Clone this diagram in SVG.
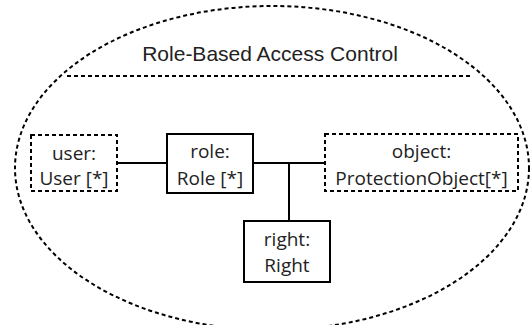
<svg xmlns="http://www.w3.org/2000/svg" width="531" height="325" viewBox="0 0 531 325">
<style>
.dot{fill:none;stroke:#000;stroke-width:2;stroke-dasharray:4 3}
.box{fill:#fff;stroke:#000;stroke-width:2}
.dbox{fill:#fff;stroke:#000;stroke-width:2;stroke-dasharray:4 3}
.lbl{font-family:"Open Sans","Noto Sans",sans-serif;font-size:19px;fill:#222;text-anchor:middle}
.title{font-family:"Liberation Sans",Arial,sans-serif;font-size:21px;fill:#222;text-anchor:middle}
.con{stroke:#000;stroke-width:2;fill:none}
</style>
<rect width="531" height="325" fill="#fff"/>
<g id="frame">
<ellipse class="dot" cx="272" cy="168" rx="257" ry="162"/>
<line class="dot" x1="67" y1="76" x2="472" y2="76"/>
<text class="title" x="270" y="61">Role-Based Access Control</text>
</g>
<g id="connectors">
<line class="con" x1="117" y1="163" x2="167" y2="163"/>
<line class="con" x1="253" y1="163" x2="325" y2="163"/>
<line class="con" x1="289" y1="163" x2="289" y2="221"/>
</g>
<g id="user">
<rect class="dbox" x="31" y="135" width="86" height="56"/>
<text class="lbl" x="74" y="160">user:</text>
<text class="lbl" x="74" y="185">User [*]</text>
</g>
<g id="role">
<rect class="box" x="167" y="134" width="86" height="59"/>
<text class="lbl" x="210" y="158">role:</text>
<text class="lbl" x="210" y="185">Role [*]</text>
</g>
<g id="object">
<rect class="dbox" x="325" y="134" width="193" height="57"/>
<text class="lbl" x="421.5" y="158">object:</text>
<text class="lbl" x="421.5" y="185">ProtectionObject[*]</text>
</g>
<g id="right">
<rect class="box" x="244" y="221" width="86" height="61"/>
<text class="lbl" x="287" y="246">right:</text>
<text class="lbl" x="287" y="272">Right</text>
</g>
</svg>
